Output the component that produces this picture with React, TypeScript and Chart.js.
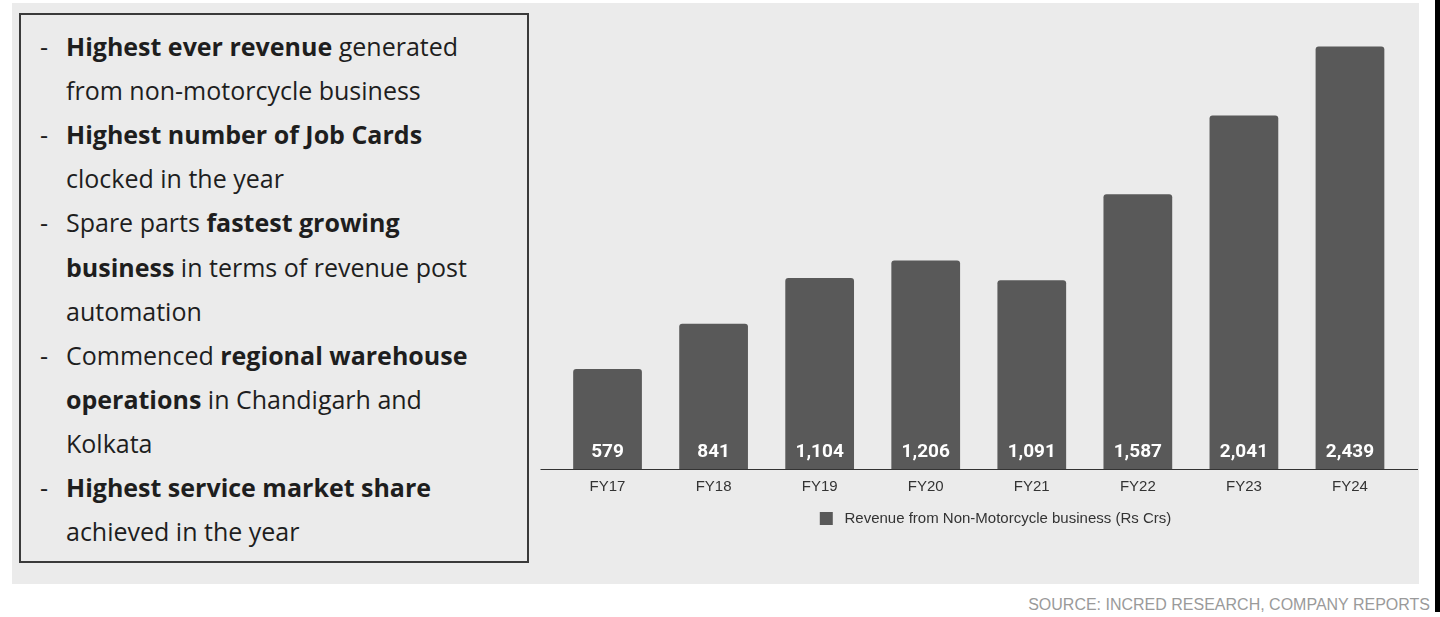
import React, { useEffect, useRef } from "react";
import { Chart, registerables } from "chart.js";

Chart.register(...registerables);

// ---------- data ----------
const categories = ["FY17", "FY18", "FY19", "FY20", "FY21", "FY22", "FY23", "FY24"];
const revenue = [579, 841, 1104, 1206, 1091, 1587, 2041, 2439];
const seriesLabel = "Revenue from Non-Motorcycle business (Rs Crs)";
const yMin = 0;
const yMax = 2500;
const sourceText = "SOURCE: INCRED RESEARCH, COMPANY REPORTS";

// each line: [dash?, segments [text, bold]]
type Seg = [string, boolean];
const bulletLines: { dash: boolean; segs: Seg[] }[] = [
  { dash: true, segs: [["Highest ever revenue", true], [" generated", false]] },
  { dash: false, segs: [["from non-motorcycle business", false]] },
  { dash: true, segs: [["Highest number of Job Cards", true]] },
  { dash: false, segs: [["clocked in the year", false]] },
  { dash: true, segs: [["Spare parts ", false], ["fastest growing", true]] },
  { dash: false, segs: [["business", true], [" in terms of revenue post", false]] },
  { dash: false, segs: [["automation", false]] },
  { dash: true, segs: [["Commenced ", false], ["regional warehouse", true]] },
  { dash: false, segs: [["operations", true], [" in Chandigarh and", false]] },
  { dash: false, segs: [["Kolkata", false]] },
  { dash: true, segs: [["Highest service market share", true]] },
  { dash: false, segs: [["achieved in the year", false]] },
];

const BAR_COLOR = "#595959";
const PANEL_BG = "#ebebeb";

const valueLabelPlugin = {
  id: "valueLabels",
  afterDatasetsDraw(chart: any) {
    const { ctx, chartArea } = chart;
    const meta = chart.getDatasetMeta(0);
    ctx.save();
    ctx.fillStyle = "#ffffff";
    ctx.font = "bold 19px Roboto";
    ctx.textAlign = "center";
    ctx.textBaseline = "alphabetic";
    meta.data.forEach((bar: any, i: number) => {
      const v = chart.data.datasets[0].data[i] as number;
      ctx.fillText(v.toLocaleString("en-US"), bar.x, chartArea.bottom - 12.5);
    });
    ctx.restore();
  },
};

const baselinePlugin = {
  id: "baseline",
  afterDatasetsDraw(chart: any) {
    const { ctx, chartArea } = chart;
    ctx.save();
    ctx.strokeStyle = "#333333";
    ctx.lineWidth = 1.2;
    ctx.beginPath();
    ctx.moveTo(chartArea.left - 14, chartArea.bottom);
    ctx.lineTo(chartArea.right + 15, chartArea.bottom);
    ctx.stroke();
    ctx.restore();
  },
};

function BarChart() {
  const ref = useRef<HTMLCanvasElement | null>(null);
  useEffect(() => {
    if (!ref.current) return;
    const chart = new Chart(ref.current, {
      type: "bar",
      data: {
        labels: categories,
        datasets: [
          {
            label: " " + seriesLabel,
            data: revenue,
            backgroundColor: BAR_COLOR,
            borderRadius: 3,
            borderSkipped: "start",
            barPercentage: 0.648,
            categoryPercentage: 1,
          },
        ],
      },
      options: {
        responsive: false,
        animation: false,
        devicePixelRatio: 1,
        layout: { padding: { top: 36, left: 0, right: 0, bottom: 0 } },
        plugins: {
          tooltip: { enabled: false },
          legend: {
            display: true,
            position: "bottom",
            labels: {
              boxWidth: 13,
              boxHeight: 13,
              padding: 10,
              color: "#333333",
              font: { family: "'Liberation Sans', Arial", size: 15 },
            },
          },
        },
        scales: {
          x: {
            grid: { display: false, drawTicks: false },
            border: { display: false },
            ticks: {
              color: "#333333",
              padding: 8,
              font: { family: "'Liberation Sans', Arial", size: 15 },
            },
            afterFit: (s: any) => {
              s.height = 31.5;
            },
          },
          y: {
            position: "left",
            min: yMin,
            max: yMax,
            grid: { display: false, drawTicks: false },
            border: { display: false },
            ticks: { display: false },
            afterFit: (s: any) => {
              s.width = 24.5;
            },
          },
          yRight: {
            type: "linear",
            position: "right",
            grid: { display: false, drawTicks: false },
            border: { display: false },
            ticks: { display: false },
            afterFit: (s: any) => {
              s.width = 58;
            },
          },
        },
      } as any,
      plugins: [valueLabelPlugin, baselinePlugin],
    });
    return () => chart.destroy();
  }, []);
  return (
    <canvas
      ref={ref}
      width={931}
      height={536}
      style={{ position: "absolute", left: 530, top: 0, width: 931, height: 536 }}
    />
  );
}

export default function App() {
  return (
    <div
      style={{
        position: "fixed",
        left: 0,
        top: 0,
        width: 1440,
        height: 617,
        overflow: "hidden",
        background: "#ffffff",
      }}
    >
      <div
        style={{
          position: "absolute",
          left: 12,
          top: 3,
          width: 1407,
          height: 581,
          background: PANEL_BG,
        }}
      />
      <div
        style={{
          position: "absolute",
          left: 19,
          top: 13,
          width: 510,
          height: 550,
          boxSizing: "border-box",
          border: "2px solid #3a3a3a",
          fontFamily: "'Open Sans', sans-serif",
          fontSize: 25,
          color: "#1e1e1e",
        }}
      >
        {bulletLines.map((ln, i) => (
          <div
            key={i}
            style={{
              position: "absolute",
              left: 0,
              top: 9 + i * 44.1,
              height: 44,
              lineHeight: "44px",
              whiteSpace: "nowrap",
            }}
          >
            {ln.dash ? (
              <span style={{ position: "absolute", left: 19, top: 0 }}>-</span>
            ) : null}
            <span style={{ position: "absolute", left: 45, top: 0 }}>
              {ln.segs.map((s, j) => (
                <span key={j} style={{ fontWeight: s[1] ? 700 : 400 }}>
                  {s[0]}
                </span>
              ))}
            </span>
          </div>
        ))}
      </div>
      <BarChart />
      <div
        style={{
          position: "absolute",
          left: 1435,
          top: 0,
          width: 5,
          height: 612,
          background: "#000000",
        }}
      />
      <div
        style={{
          position: "absolute",
          right: 10,
          top: 595,
          fontFamily: "'Liberation Sans', Arial",
          fontSize: 16,
          lineHeight: "20px",
          color: "#9a9a9a",
          whiteSpace: "nowrap",
        }}
      >
        {sourceText}
      </div>
    </div>
  );
}
